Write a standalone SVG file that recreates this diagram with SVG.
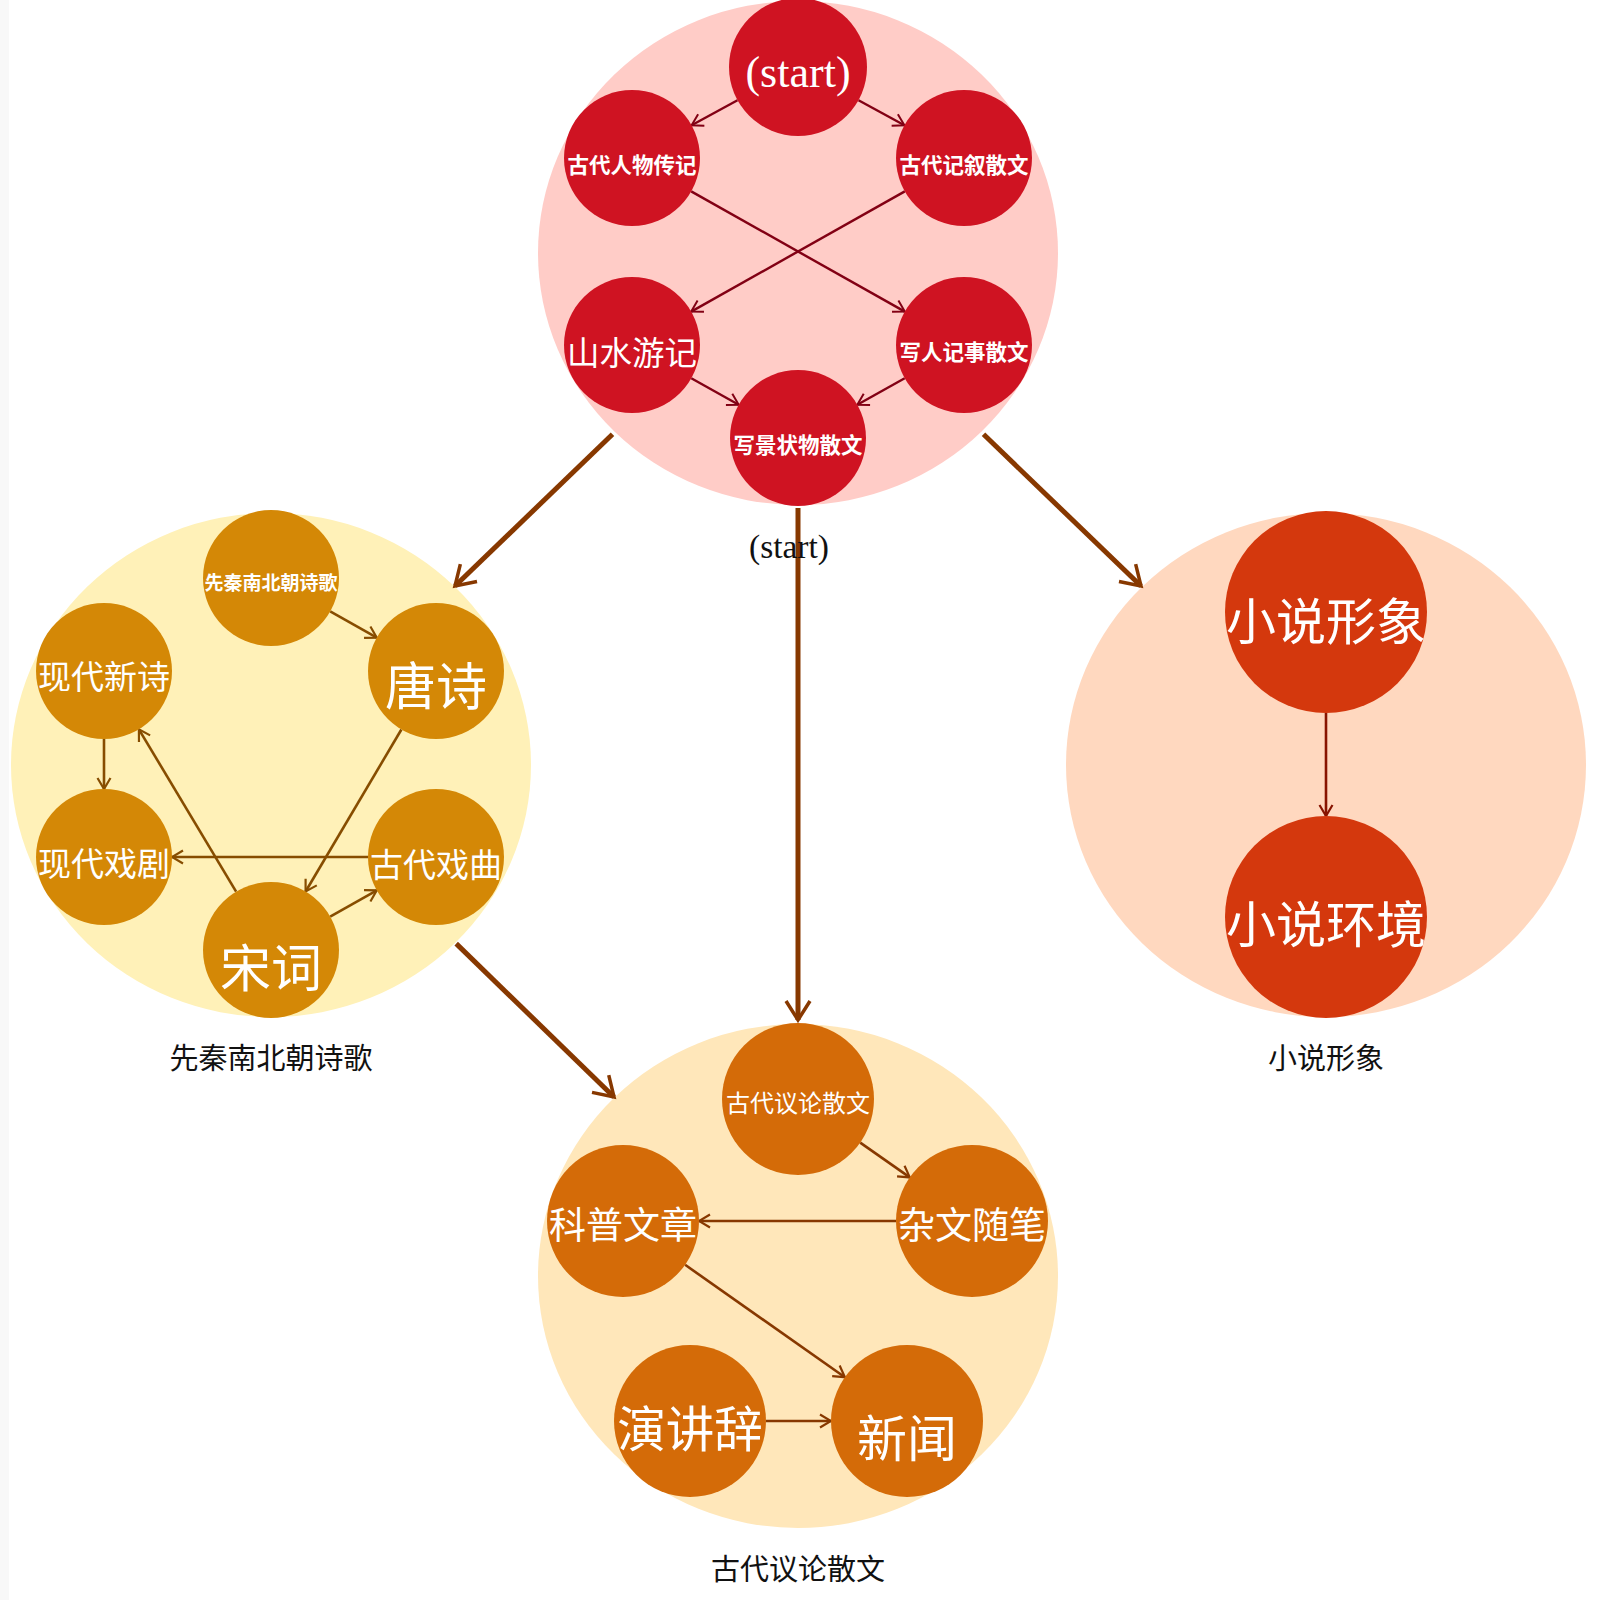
<svg xmlns="http://www.w3.org/2000/svg" width="1600" height="1600" viewBox="0 0 1600 1600">
  <style>
    .bg-red{fill:#ffccc7}
    .bg-gold{fill:#fff1b8}
    .bg-volcano{fill:#ffd8bf}
    .bg-orange{fill:#ffe7ba}
    .n-red{fill:#cf1322}
    .n-gold{fill:#d48806}
    .n-volcano{fill:#d4380d}
    .n-orange{fill:#d46b08}
    .t{fill:#ffffff;font-family:"Noto Sans CJK SC","Noto Sans",sans-serif;text-anchor:middle;dominant-baseline:central}
    .tb{font-weight:bold}
    .ts{fill:#ffffff;font-family:"Liberation Serif",serif;text-anchor:middle;dominant-baseline:central}
    .lbl{fill:#111111;font-family:"Noto Sans CJK SC","Noto Sans",sans-serif;font-size:29px;text-anchor:middle;dominant-baseline:central}
    .lbls{fill:#111111;font-family:"Liberation Serif",serif;font-size:33.5px;text-anchor:middle;dominant-baseline:central}
    .e{fill:none}
    .e-red{stroke:#820014;stroke-width:2.4;marker-end:url(#ar-red)}
    .e-gold{stroke:#874d00;stroke-width:2.6;marker-end:url(#ar-gold)}
    .e-orange{stroke:#873800;stroke-width:2.6;marker-end:url(#ar-orange)}
    .e-volcano{stroke:#871400;stroke-width:2.6;marker-end:url(#ar-volcano)}
    .e-main{stroke:#873800;stroke-width:5;marker-end:url(#ar-main)}
  </style>
  <defs>
    <marker id="ar-red" viewBox="-14 -9 16 18" markerWidth="16" markerHeight="18" refX="0" refY="0" orient="auto" markerUnits="userSpaceOnUse">
      <path d="M -11 -6.5 L 0 0 L -11 6.5" fill="none" stroke="#820014" stroke-width="2"/>
    </marker>
    <marker id="ar-gold" viewBox="-14 -9 16 18" markerWidth="16" markerHeight="18" refX="0" refY="0" orient="auto" markerUnits="userSpaceOnUse">
      <path d="M -11 -6.5 L 0 0 L -11 6.5" fill="none" stroke="#874d00" stroke-width="2.2"/>
    </marker>
    <marker id="ar-orange" viewBox="-14 -9 16 18" markerWidth="16" markerHeight="18" refX="0" refY="0" orient="auto" markerUnits="userSpaceOnUse">
      <path d="M -11 -6.5 L 0 0 L -11 6.5" fill="none" stroke="#873800" stroke-width="2.2"/>
    </marker>
    <marker id="ar-volcano" viewBox="-14 -9 16 18" markerWidth="16" markerHeight="18" refX="0" refY="0" orient="auto" markerUnits="userSpaceOnUse">
      <path d="M -11 -6.5 L 0 0 L -11 6.5" fill="none" stroke="#871400" stroke-width="2.2"/>
    </marker>
    <marker id="ar-main" viewBox="-24 -16 28 32" markerWidth="28" markerHeight="32" refX="0" refY="0" orient="auto" markerUnits="userSpaceOnUse">
      <path d="M -19 -12 L 0 0 L -19 12" fill="none" stroke="#873800" stroke-width="3.5"/>
    </marker>
  </defs>

  <rect x="0" y="0" width="1600" height="1600" fill="#ffffff"/>
  <rect x="0" y="0" width="9" height="1600" fill="#f8f8f8"/>

  <!-- cluster backgrounds -->
  <g id="cluster-top"><ellipse class="bg-red" cx="798" cy="253" rx="260" ry="252"/></g>
  <g id="cluster-left"><ellipse class="bg-gold" cx="271" cy="765" rx="260" ry="252"/></g>
  <g id="cluster-right"><ellipse class="bg-volcano" cx="1326" cy="765" rx="260" ry="252"/></g>
  <g id="cluster-bottom"><ellipse class="bg-orange" cx="798" cy="1276" rx="260" ry="252"/></g>

  <!-- connectors -->
  <g id="connectors">
    <!-- between clusters -->
    <line class="e e-main" x1="612.5" y1="434.3" x2="455" y2="586"/>
    <line class="e e-main" x1="983.5" y1="434.3" x2="1141" y2="586"/>
    <line class="e e-main" x1="798" y1="508" x2="798" y2="1020"/>
    <line class="e e-main" x1="456.2" y1="943.6" x2="614" y2="1097"/>
    <!-- top cluster -->
    <line class="e e-red" x1="737.5" y1="100.2" x2="691.6" y2="125.3"/>
    <line class="e e-red" x1="858.5" y1="100.2" x2="904.4" y2="125.3"/>
    <line class="e e-red" x1="691.2" y1="191.4" x2="904.8" y2="311.6"/>
    <line class="e e-red" x1="904.8" y1="191.4" x2="691.2" y2="311.6"/>
    <line class="e e-red" x1="691.3" y1="378.2" x2="738.7" y2="404.8"/>
    <line class="e e-red" x1="904.7" y1="378.2" x2="857.3" y2="404.8"/>
    <!-- left cluster -->
    <line class="e e-gold" x1="330.2" y1="611.4" x2="376.8" y2="637.6"/>
    <line class="e e-gold" x1="401.4" y1="729.5" x2="305.6" y2="891.5"/>
    <line class="e e-gold" x1="330.2" y1="916.6" x2="376.8" y2="890.4"/>
    <line class="e e-gold" x1="368" y1="857" x2="172" y2="857"/>
    <line class="e e-gold" x1="236.1" y1="891.7" x2="138.9" y2="729.3"/>
    <line class="e e-gold" x1="104" y1="739" x2="104" y2="789"/>
    <!-- right cluster -->
    <line class="e e-volcano" x1="1326" y1="713" x2="1326" y2="816"/>
    <!-- bottom cluster -->
    <line class="e e-orange" x1="860.2" y1="1142.6" x2="909.8" y2="1177.4"/>
    <line class="e e-orange" x1="896" y1="1221" x2="699" y2="1221"/>
    <line class="e e-orange" x1="685.1" y1="1264.8" x2="844.9" y2="1377.2"/>
    <line class="e e-orange" x1="766" y1="1421" x2="831" y2="1421"/>
  </g>

  <!-- top cluster nodes -->
  <g id="node-start"><circle class="n-red" cx="798" cy="67" r="69"/><text class="ts" x="798" y="72" font-size="44">(start)</text></g>
  <g id="node-gdrwzj"><circle class="n-red" cx="632" cy="158" r="68"/><text class="t tb" x="632" y="163" font-size="21.5">古代人物传记</text></g>
  <g id="node-gdjxsw"><circle class="n-red" cx="964" cy="158" r="68"/><text class="t tb" x="964" y="163" font-size="21.5">古代记叙散文</text></g>
  <g id="node-ssyj"><circle class="n-red" cx="632" cy="345" r="68"/><text class="t" x="632" y="350" font-size="32.5">山水游记</text></g>
  <g id="node-xrjssw"><circle class="n-red" cx="964" cy="345" r="68"/><text class="t tb" x="964" y="350" font-size="21.5">写人记事散文</text></g>
  <g id="node-xjzwsw"><circle class="n-red" cx="798" cy="438" r="68"/><text class="t tb" x="798" y="443" font-size="21.5">写景状物散文</text></g>
  <text class="lbls" x="789" y="546">(start)</text>

  <!-- left cluster nodes -->
  <g id="node-xqnbcsg"><circle class="n-gold" cx="271" cy="578" r="68"/><text class="t tb" x="271" y="581" font-size="19">先秦南北朝诗歌</text></g>
  <g id="node-ts"><circle class="n-gold" cx="436" cy="671" r="68"/><text class="t" x="436" y="683" font-size="51">唐诗</text></g>
  <g id="node-xdxs"><circle class="n-gold" cx="104" cy="671" r="68"/><text class="t" x="104" y="675" font-size="33">现代新诗</text></g>
  <g id="node-xdxj"><circle class="n-gold" cx="104" cy="857" r="68"/><text class="t" x="104" y="862" font-size="33">现代戏剧</text></g>
  <g id="node-gdxq"><circle class="n-gold" cx="436" cy="857" r="68"/><text class="t" x="436" y="863" font-size="33">古代戏曲</text></g>
  <g id="node-sc"><circle class="n-gold" cx="271" cy="950" r="68"/><text class="t" x="271" y="965" font-size="51">宋词</text></g>
  <text class="lbl" x="271" y="1056">先秦南北朝诗歌</text>

  <!-- right cluster nodes -->
  <g id="node-xsxx"><circle class="n-volcano" cx="1326" cy="612" r="101"/><text class="t" x="1326" y="618" font-size="50">小说形象</text></g>
  <g id="node-xshj"><circle class="n-volcano" cx="1326" cy="917" r="101"/><text class="t" x="1326" y="921" font-size="50">小说环境</text></g>
  <text class="lbl" x="1326" y="1056">小说形象</text>

  <!-- bottom cluster nodes -->
  <g id="node-gdylsw"><circle class="n-orange" cx="798" cy="1099" r="76"/><text class="t" x="798" y="1101" font-size="24">古代议论散文</text></g>
  <g id="node-zwsb"><circle class="n-orange" cx="972" cy="1221" r="76"/><text class="t" x="972" y="1223" font-size="37">杂文随笔</text></g>
  <g id="node-kpwz"><circle class="n-orange" cx="623" cy="1221" r="76"/><text class="t" x="623" y="1223" font-size="37">科普文章</text></g>
  <g id="node-yjc"><circle class="n-orange" cx="690" cy="1421" r="76"/><text class="t" x="690" y="1426" font-size="48.5">演讲辞</text></g>
  <g id="node-xw"><circle class="n-orange" cx="907" cy="1421" r="76"/><text class="t" x="907" y="1435" font-size="50">新闻</text></g>
  <text class="lbl" x="798" y="1567">古代议论散文</text>
</svg>
